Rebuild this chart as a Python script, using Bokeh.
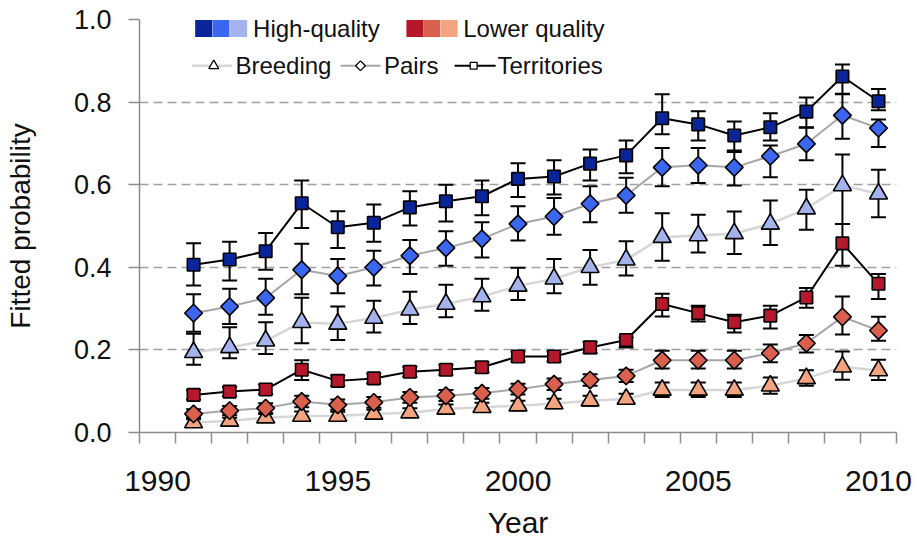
from bokeh.plotting import figure
from bokeh.models import (Range1d, FixedTicker, Whisker, TeeHead, ColumnDataSource,
                          PrintfTickFormatter)
from bokeh.core.properties import value
from bokeh.embed import file_html
from bokeh.resources import INLINE
import numpy as np

# ---------------- data ----------------
years = list(range(1991, 2011))

hq_territories    = [0.406,0.419,0.439,0.555,0.497,0.508,0.545,0.560,0.572,0.614,0.620,0.651,0.671,0.761,0.746,0.719,0.739,0.777,0.862,0.802]
hq_territories_lo = [0.356,0.368,0.394,0.495,0.447,0.462,0.501,0.511,0.526,0.570,0.576,0.610,0.628,0.722,0.707,0.683,0.707,0.739,0.820,0.780]
hq_territories_hi = [0.458,0.462,0.483,0.610,0.536,0.552,0.584,0.600,0.610,0.652,0.659,0.685,0.707,0.819,0.778,0.753,0.773,0.811,0.891,0.832]

hq_pairs    = [0.289,0.305,0.326,0.394,0.379,0.400,0.428,0.447,0.469,0.505,0.523,0.554,0.574,0.642,0.647,0.642,0.669,0.699,0.768,0.737]
hq_pairs_lo = [0.244,0.263,0.285,0.335,0.337,0.356,0.384,0.404,0.424,0.465,0.479,0.509,0.532,0.596,0.604,0.598,0.618,0.659,0.711,0.691]
hq_pairs_hi = [0.335,0.348,0.372,0.457,0.420,0.440,0.466,0.487,0.509,0.548,0.568,0.596,0.617,0.689,0.689,0.679,0.695,0.738,0.819,0.758]

hq_breeding    = [0.194,0.206,0.222,0.267,0.263,0.277,0.297,0.311,0.329,0.355,0.372,0.400,0.418,0.473,0.477,0.482,0.505,0.542,0.598,0.578]
hq_breeding_lo = [0.164,0.180,0.190,0.216,0.224,0.242,0.263,0.279,0.295,0.321,0.337,0.358,0.380,0.416,0.436,0.432,0.454,0.491,0.505,0.521]
hq_breeding_hi = [0.239,0.255,0.267,0.326,0.305,0.319,0.341,0.358,0.372,0.399,0.420,0.442,0.463,0.531,0.527,0.535,0.562,0.588,0.673,0.636]

lq_territories    = [0.091,0.099,0.104,0.152,0.125,0.131,0.147,0.152,0.158,0.184,0.184,0.206,0.224,0.311,0.289,0.267,0.283,0.327,0.458,0.360]
lq_territories_lo = [0.080,0.088,0.093,0.127,0.113,0.119,0.135,0.140,0.146,0.172,0.172,0.192,0.206,0.281,0.269,0.242,0.252,0.302,0.404,0.323]
lq_territories_hi = [0.103,0.110,0.116,0.175,0.138,0.143,0.159,0.164,0.170,0.196,0.196,0.220,0.230,0.336,0.307,0.285,0.307,0.350,0.505,0.384]

lq_pairs    = [0.045,0.053,0.059,0.075,0.067,0.073,0.085,0.089,0.095,0.105,0.117,0.127,0.137,0.175,0.175,0.175,0.192,0.216,0.280,0.247]
lq_pairs_lo = [0.035,0.042,0.047,0.061,0.055,0.060,0.072,0.076,0.082,0.092,0.103,0.113,0.122,0.155,0.155,0.155,0.170,0.194,0.237,0.222]
lq_pairs_hi = [0.056,0.064,0.071,0.089,0.080,0.086,0.098,0.103,0.108,0.118,0.131,0.141,0.152,0.198,0.198,0.198,0.213,0.236,0.329,0.280]

lq_breeding    = [0.024,0.028,0.036,0.040,0.040,0.045,0.048,0.057,0.061,0.065,0.070,0.077,0.081,0.103,0.103,0.103,0.113,0.131,0.159,0.150]
lq_breeding_lo = [0.017,0.020,0.027,0.030,0.031,0.035,0.038,0.046,0.050,0.054,0.059,0.065,0.069,0.086,0.086,0.086,0.094,0.113,0.128,0.127]
lq_breeding_hi = [0.032,0.036,0.045,0.051,0.050,0.055,0.059,0.068,0.072,0.077,0.082,0.089,0.094,0.121,0.121,0.121,0.133,0.151,0.196,0.176]

y_ticks = [0.0, 0.2, 0.4, 0.6, 0.8, 1.0]
x_label_ticks = [1990, 1995, 2000, 2005, 2010]

# ---------------- styles ----------------
FONT = "Liberation Sans"
TXT = "#111111"
HQ_COLORS = {"territories": "#0a259a", "pairs": "#3a66f0", "breeding": "#a5b3ec"}
LQ_COLORS = {"territories": "#b5172b", "pairs": "#d8604c", "breeding": "#f2a481"}
LINE_STYLE = {"territories": ("#000000", 2.0),
              "pairs": ("#a6a6a6", 2.0),
              "breeding": ("#d6d6d6", 2.5)}
MARKER = {"territories": ("square", 12.5, 0.0),
          "pairs": ("square", 12.5, np.pi / 4),
          "breeding": ("triangle", 18, 0.0)}

p = figure(width=913, height=541,
           x_range=Range1d(1989.5, 2010.5), y_range=Range1d(0, 1.0),
           output_backend="svg", toolbar_location=None,
           min_border_left=139, min_border_right=17,
           min_border_top=19, min_border_bottom=109)
p.outline_line_color = None
p.background_fill_color = "white"
p.border_fill_color = "white"

# grid
p.xgrid.visible = False
p.ygrid.ticker = FixedTicker(ticks=[0.2, 0.4, 0.6, 0.8])
p.ygrid.grid_line_color = "#a0a0a0"
p.ygrid.grid_line_dash = "9 5"
p.ygrid.grid_line_width = 1.3

# y axis
ya = p.yaxis[0]
ya.ticker = FixedTicker(ticks=y_ticks)
ya.formatter = PrintfTickFormatter(format="%.1f")
ya.axis_line_color = "#8c8c8c"
ya.axis_line_width = 1.5
ya.major_tick_line_color = "#8c8c8c"
ya.major_tick_line_width = 1.5
ya.major_tick_out = 11
ya.major_tick_in = 0
ya.minor_tick_line_color = None
ya.major_label_text_font = FONT
ya.major_label_text_font_size = "27px"
ya.major_label_text_color = TXT
ya.major_label_standoff = 17
ya.axis_label = "Fitted probability"
ya.axis_label_text_font = FONT
ya.axis_label_text_font_size = "28px"
ya.axis_label_text_font_style = "normal"
ya.axis_label_text_color = TXT
ya.axis_label_standoff = 35

# x axis
xa = p.xaxis[0]
xa.ticker = FixedTicker(ticks=x_label_ticks,
                        minor_ticks=[y0 - 0.5 for y0 in years] + [years[-1] + 0.5, years[0] - 1.5])
xa.formatter = PrintfTickFormatter(format="%d")
xa.axis_line_color = "#8c8c8c"
xa.axis_line_width = 1.5
xa.major_tick_out = 0
xa.major_tick_in = 0
xa.major_tick_line_color = None
xa.minor_tick_line_color = "#8c8c8c"
xa.minor_tick_line_width = 1.5
xa.minor_tick_out = 11
xa.minor_tick_in = 0
xa.major_label_text_font = FONT
xa.major_label_text_font_size = "30px"
xa.major_label_text_color = TXT
xa.major_label_standoff = 27
xa.axis_label = "Year"
xa.axis_label_text_font = FONT
xa.axis_label_text_font_size = "30px"
xa.axis_label_text_font_style = "normal"
xa.axis_label_text_color = TXT
xa.axis_label_standoff = 12

# ---------------- series ----------------
series = [
    ("breeding", "hq", hq_breeding, hq_breeding_lo, hq_breeding_hi),
    ("pairs", "hq", hq_pairs, hq_pairs_lo, hq_pairs_hi),
    ("territories", "hq", hq_territories, hq_territories_lo, hq_territories_hi),
    ("breeding", "lq", lq_breeding, lq_breeding_lo, lq_breeding_hi),
    ("pairs", "lq", lq_pairs, lq_pairs_lo, lq_pairs_hi),
    ("territories", "lq", lq_territories, lq_territories_lo, lq_territories_hi),
]

sources = []
for kind, q, vals, lo, hi in series:
    src = ColumnDataSource(dict(x=years, y=vals, lo=lo, hi=hi))
    sources.append((kind, q, src))

# lines first
for kind, q, src in sources:
    col, w = LINE_STYLE[kind]
    p.line("x", "y", source=src, line_color=col, line_width=w)

# error bars
for kind, q, src in sources:
    wk = Whisker(base="x", lower="lo", upper="hi", source=src, dimension="height",
                 line_color="black", line_width=2,
                 lower_head=TeeHead(size=15, line_color="black", line_width=2),
                 upper_head=TeeHead(size=15, line_color="black", line_width=2))
    p.add_layout(wk)

# markers
for kind, q, src in sources:
    marker, size, ang = MARKER[kind]
    fill = (HQ_COLORS if q == "hq" else LQ_COLORS)[kind]
    p.scatter("x", "y", source=src, marker=marker, size=size, angle=ang,
              fill_color=fill, line_color="black", line_width=1.6)

# ---------------- legend (drawn by hand) ----------------
row1_y = 0.978
row2_y = 0.888
sq_blue_x = [1991.28, 1991.76, 1992.25]
sq_red_x = [1997.14, 1997.61, 1998.09]
p.rect(x=sq_blue_x, y=[row1_y] * 3, width=17, height=17,
       width_units="screen", height_units="screen",
       fill_color=[HQ_COLORS["territories"], HQ_COLORS["pairs"], HQ_COLORS["breeding"]],
       line_color=None)
p.rect(x=sq_red_x, y=[row1_y] * 3, width=17, height=17,
       width_units="screen", height_units="screen",
       fill_color=[LQ_COLORS["territories"], LQ_COLORS["pairs"], LQ_COLORS["breeding"]],
       line_color=None)
p.text(x=[1992.65, 1998.48], y=[row1_y] * 2, text=["High-quality", "Lower quality"],
       text_font=value(FONT), text_font_size="24px", text_color=TXT,
       text_baseline="middle", text_align="left")

leg2 = [("breeding", 1990.96, 1992.07, 1991.56, 1992.16, "Breeding"),
        ("pairs", 1995.08, 1996.19, 1995.63, 1996.28, "Pairs"),
        ("territories", 1998.24, 1999.38, 1998.77, 1999.43, "Territories")]
for kind, x0, x1, xm, xt, lab in leg2:
    col, w = LINE_STYLE[kind]
    p.line([x0, x1], [row2_y, row2_y], line_color=col, line_width=w)
    marker, size, ang = MARKER[kind]
    p.scatter([xm], [row2_y], marker=marker, size=size * 0.55, angle=ang,
              fill_color="white", line_color="black", line_width=1.3)
    p.text(x=[xt], y=[row2_y], text=[lab], text_font=value(FONT), text_font_size="24px",
           text_color=TXT, text_baseline="middle", text_align="left")

open("out.html", "w").write(file_html(p, INLINE))
